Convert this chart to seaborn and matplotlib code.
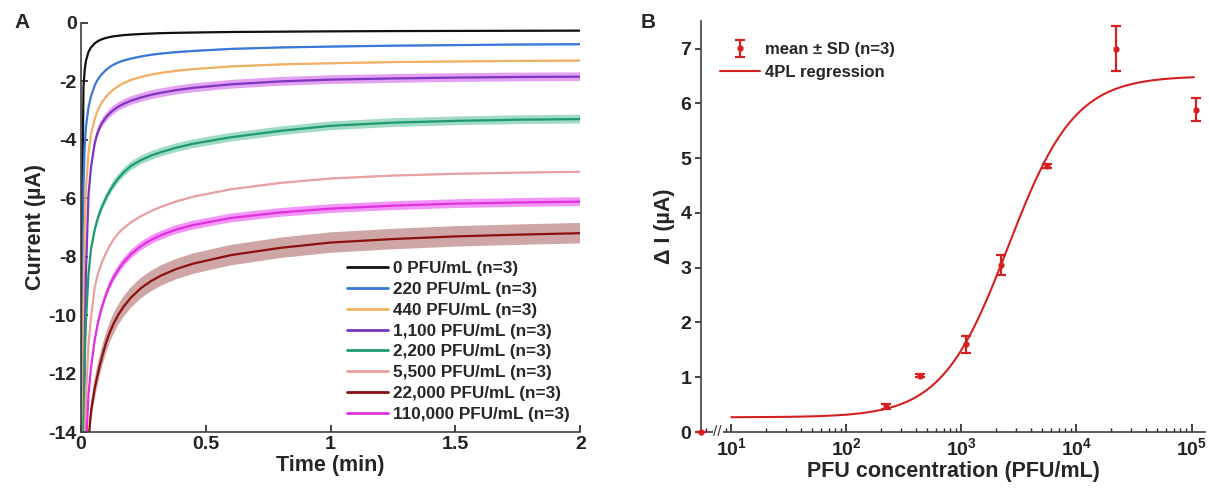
# Chronoamperometry traces (A) and dose-response with 4PL fit (B)

import numpy as np
import pandas as pd
import seaborn as sns
import matplotlib.pyplot as plt
from matplotlib.lines import Line2D

sns.set_style("ticks")
plt.rcParams['font.family'] = ['Liberation Sans', 'DejaVu Sans']
plt.rcParams['font.weight'] = 'bold'
plt.rcParams['axes.labelweight'] = 'bold'
plt.rcParams['axes.unicode_minus'] = False
plt.rcParams['mathtext.fontset'] = 'custom'
plt.rcParams['mathtext.rm'] = 'Liberation Sans:bold'
plt.rcParams['mathtext.bf'] = 'Liberation Sans:bold'

# ---- Panel A data: mean current (uA) vs time (min)
time_min = [0.0, 0.005, 0.01, 0.015, 0.02, 0.03, 0.04, 0.055, 0.065, 0.075, 0.085,
            0.1, 0.115, 0.13, 0.15, 0.17, 0.2, 0.24, 0.28, 0.32, 0.38, 0.45,
            0.6, 0.8, 1.0, 1.25, 1.5, 1.75, 2.0]

cur_0 = [-30, -6.0, -2.2, -1.6, -1.3, -1.0, -0.85, -0.71, -0.65, -0.6, -0.565,
         -0.525, -0.495, -0.47, -0.45, -0.43, -0.41, -0.39, -0.375, -0.362, -0.35, -0.34,
         -0.322, -0.31, -0.3, -0.29, -0.285, -0.28, -0.275]
cur_220 = [-30, -14.0, -5.5, -4.2, -3.55, -2.9, -2.52, -2.15, -1.98, -1.85, -1.75,
           -1.62, -1.52, -1.44, -1.36, -1.3, -1.23, -1.16, -1.1, -1.06, -1.01, -0.97,
           -0.9, -0.85, -0.82, -0.79, -0.77, -0.75, -0.74]
cur_440 = [-30, -20.0, -10.0, -7.0, -5.6, -4.45, -3.82, -3.3, -3.05, -2.86, -2.71,
           -2.54, -2.4, -2.29, -2.17, -2.07, -1.96, -1.86, -1.78, -1.72, -1.65, -1.59,
           -1.5, -1.43, -1.39, -1.35, -1.33, -1.31, -1.3]
cur_1100 = [-30, -22.0, -15.0, -11.0, -8.5, -5.9, -4.95, -4.12, -3.8, -3.58, -3.42,
            -3.24, -3.1, -2.99, -2.87, -2.78, -2.67, -2.56, -2.47, -2.4, -2.31, -2.23,
            -2.11, -2.01, -1.95, -1.91, -1.88, -1.86, -1.85]
cur_2200 = [-30, -19.0, -14.2, -11.5, -10.2, -8.6, -7.75, -7.08, -6.76, -6.5, -6.28,
            -6.0, -5.76, -5.55, -5.32, -5.13, -4.9, -4.7, -4.55, -4.43, -4.28, -4.14,
            -3.92, -3.7, -3.53, -3.42, -3.36, -3.32, -3.3]
cur_5500 = [-30, -21.0, -16.5, -14.3, -12.8, -11.0, -10.1, -9.05, -8.68, -8.4, -8.17,
            -7.88, -7.63, -7.42, -7.2, -7.03, -6.83, -6.62, -6.45, -6.3, -6.12, -5.95,
            -5.7, -5.48, -5.33, -5.23, -5.17, -5.13, -5.1]
cur_22000 = [-30, -25.0, -20.0, -18.0, -16.0, -14.3, -13.3, -12.5, -12.1, -11.73, -11.4,
             -10.95, -10.6, -10.3, -9.98, -9.72, -9.4, -9.08, -8.84, -8.65, -8.43, -8.24,
             -7.95, -7.7, -7.52, -7.4, -7.31, -7.25, -7.2]
cur_110000 = [-30, -22.0, -18.0, -16.0, -14.5, -12.7, -11.8, -10.85, -10.38, -10.0, -9.7,
              -9.3, -8.98, -8.72, -8.44, -8.2, -7.92, -7.64, -7.43, -7.27, -7.08, -6.92,
              -6.68, -6.49, -6.36, -6.26, -6.19, -6.15, -6.12]

trace_labels = ['0 PFU/mL (n=3)', '220 PFU/mL (n=3)', '440 PFU/mL (n=3)',
                '1,100 PFU/mL (n=3)', '2,200 PFU/mL (n=3)', '5,500 PFU/mL (n=3)',
                '22,000 PFU/mL (n=3)', '110,000 PFU/mL (n=3)']
trace_sd = [0.02, 0.03, 0.03, 0.15, 0.15, 0.03, 0.35, 0.15]
line_colors = ['#111111', '#3a78d8', '#f2b066', '#7e35c0',
               '#1f9a70', '#e8a0a0', '#8a1010', '#e030e0']
band_colors = ['#888888', '#8ab0f0', '#f8d0a0', '#dc80f0',
               '#80d0b0', '#f0c8c8', '#c08888', '#f070f8']

# ---- Panel B data: delta current vs concentration
conc = [0, 220, 440, 1100, 2200, 5500, 22000, 110000]
delta_i = [0.0, 0.47, 1.03, 1.6, 3.05, 4.86, 7.0, 5.88]
delta_sd = [0.0, 0.04, 0.03, 0.15, 0.18, 0.04, 0.41, 0.21]
# 4PL fit parameters
fit_bottom, fit_top, fit_ec50, fit_hill = 0.27, 6.5, 2550.0, 1.5
fit_range = (10, 1.05e5)

red = '#d42020'
axis_color = '#404040'
tick_fs = 14
label_fs = 15.5

fig = plt.figure(figsize=(12.09, 4.91), dpi=100)
axA = fig.add_axes([0.067, 0.12, 0.413, 0.834])
axB = fig.add_axes([0.58, 0.12, 0.417, 0.837])

# ---------------- Panel A
currents = [cur_0, cur_220, cur_440, cur_1100, cur_2200, cur_5500, cur_22000, cur_110000]
frames = []
for lab, cur in zip(trace_labels, currents):
    frames.append(pd.DataFrame({'time': time_min, 'current': cur, 'conc': lab}))
dfA = pd.concat(frames, ignore_index=True)

for lab, cur, sd, bc in zip(trace_labels, currents, trace_sd, band_colors):
    c = np.array(cur)
    axA.fill_between(time_min, c - sd, c + sd, color=bc, alpha=0.75, lw=0)

sns.lineplot(data=dfA, x='time', y='current', hue='conc', hue_order=trace_labels,
             palette=line_colors, lw=1.6, ax=axA, legend=False)

axA.set_xlim(0, 2)
axA.set_ylim(-14, 0)
axA.set_xticks([0, 0.5, 1, 1.5, 2])
axA.set_xticklabels(['0', '0.5', '1', '1.5', '2'])
axA.set_yticks(range(-14, 1, 2))
axA.set_xlabel('Time (min)', fontsize=label_fs, labelpad=1)
axA.set_ylabel('Current (\u00b5A)', fontsize=label_fs, labelpad=2)
axA.tick_params(direction='in', length=5, width=1.2, labelsize=tick_fs, colors='#222222',
                pad=3)
for s in ['top', 'right']:
    axA.spines[s].set_visible(False)
for s in ['left', 'bottom']:
    axA.spines[s].set_color(axis_color)
    axA.spines[s].set_linewidth(1.2)

handlesA = [Line2D([0], [0], color=c, lw=2) for c in line_colors]
axA.legend(handlesA, trace_labels, loc='lower right', frameon=False,
           fontsize=12.3, handlelength=2.4, handletextpad=0.3, labelspacing=0.34,
           borderaxespad=0.2, bbox_to_anchor=(1.0, 0.0))

# ---------------- Panel B
x_left = 5.48
xs = np.logspace(np.log10(fit_range[0]), np.log10(fit_range[1]), 300)
fit_y = fit_bottom + (fit_top - fit_bottom) / (1 + (fit_ec50 / xs) ** fit_hill)
sns.lineplot(x=xs, y=fit_y, color=red, lw=1.5, ax=axB, label='4PL regression')

conc_plot = [c if c > 0 else x_left for c in conc]
axB.errorbar(conc_plot, delta_i, yerr=delta_sd, fmt='o', ms=3.5, color=red,
             ecolor=red, elinewidth=1.6, capsize=3.5, capthick=1.6,
             label='mean \u00b1 SD (n=3)', clip_on=False, zorder=5)

axB.set_xscale('log')
axB.set_xlim(x_left, 1.32e5)
axB.set_ylim(0, 7.5)
axB.set_xticks([10, 100, 1000, 10000, 100000])
axB.set_xticklabels([r'$\mathbf{10^{%d}}$' % k for k in range(1, 6)])
axB.set_yticks(range(0, 8))
axB.set_xlabel('PFU concentration (PFU/mL)', fontsize=label_fs, labelpad=1)
axB.set_ylabel('\u0394 I (\u00b5A)', fontsize=label_fs, labelpad=4)
axB.tick_params(axis='x', which='major', direction='in', length=6, width=1.2,
                labelsize=tick_fs, colors='#222222', pad=4)
axB.tick_params(axis='x', which='minor', direction='in', length=3, width=1.0,
                colors='#222222')
axB.tick_params(axis='y', direction='out', length=4, width=1.2, labelsize=tick_fs,
                colors='#222222', pad=3)
for s in ['top', 'right']:
    axB.spines[s].set_visible(False)
for s in ['left', 'bottom']:
    axB.spines[s].set_color(axis_color)
    axB.spines[s].set_linewidth(1.2)

# axis break mark
axB.text(7.6, 0, '//', ha='center', va='center', fontsize=11, color='#333333',
         fontweight='normal', clip_on=False,
         bbox=dict(facecolor='white', edgecolor='none', pad=0.5))

h, l = axB.get_legend_handles_labels()
order = [l.index('mean \u00b1 SD (n=3)'), l.index('4PL regression')]
axB.legend([h[i] for i in order], [l[i] for i in order], loc='upper left',
           frameon=False, fontsize=12, handlelength=2.4, handletextpad=0.3,
           labelspacing=0.45, bbox_to_anchor=(0.008, 0.985))

fig.text(0.012, 0.955, 'A', fontsize=15, fontweight='bold', va='center')
fig.text(0.530, 0.955, 'B', fontsize=15, fontweight='bold', va='center')

fig.savefig('out.png', dpi=100, facecolor='white')
